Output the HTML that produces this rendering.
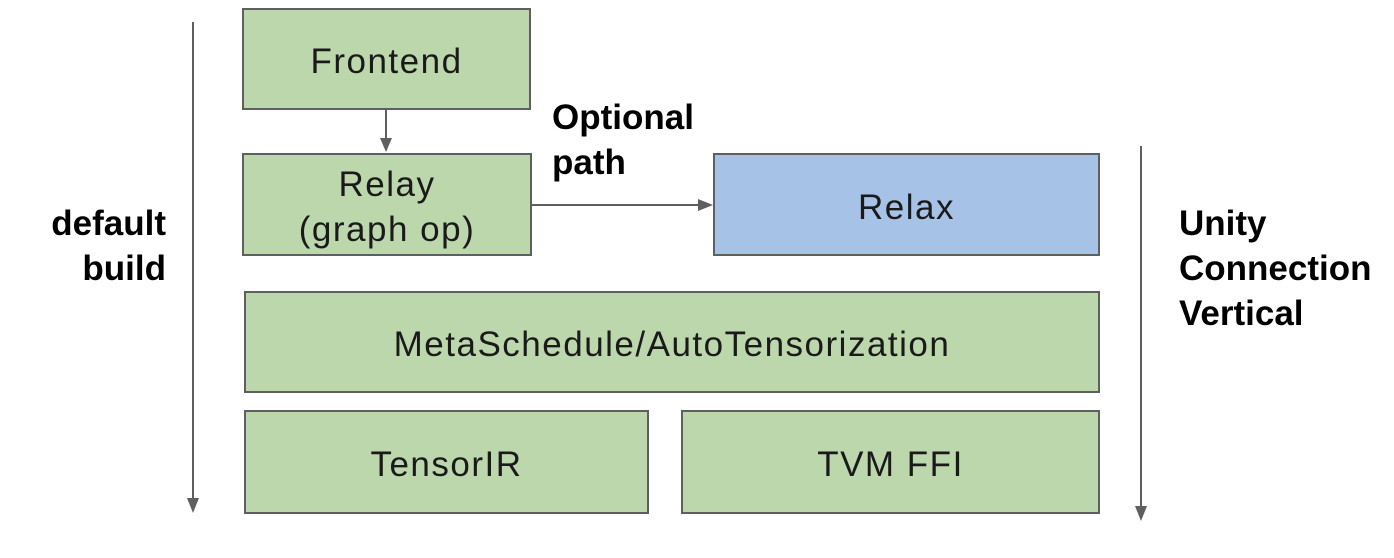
<!DOCTYPE html>
<html><head><style>
body{margin:0;width:1394px;height:558px;background:#fff;position:relative;overflow:hidden;font-family:"Liberation Sans",sans-serif}
.b{position:absolute;box-sizing:border-box;border:2px solid #5f5f5f;background:#bdd7ad;display:flex;align-items:center;justify-content:center;text-align:center;font-size:35px;letter-spacing:1.5px;color:#1a1a1a;line-height:45px;padding-top:5px}
.t{position:absolute;font-weight:bold;font-size:35px;line-height:45px;color:#000}
</style></head><body>
<div class="b" style="left:242px;top:8px;width:289px;height:102px">Frontend</div>
<div class="b" style="left:242px;top:153px;width:290px;height:103px">Relay<br>(graph op)</div>
<div class="b" style="left:713px;top:153px;width:387px;height:103px;background:#a6c3e7">Relax</div>
<div class="b" style="left:244px;top:291px;width:856px;height:102px">MetaSchedule/AutoTensorization</div>
<div class="b" style="left:244px;top:410px;width:405px;height:104px">TensorIR</div>
<div class="b" style="left:681px;top:410px;width:419px;height:104px">TVM FFI</div>
<div class="t" style="left:552px;top:95px">Optional<br>path</div>
<div class="t" style="left:20px;top:201px;width:146px;text-align:right">default<br>build</div>
<div class="t" style="left:1179px;top:201px">Unity<br>Connection<br>Vertical</div>
<svg width="1394" height="558" style="position:absolute;left:0;top:0">
<g stroke="#5f5f5f" stroke-width="2" fill="#5f5f5f">
<line x1="193" y1="22" x2="193" y2="500"/><polygon points="187,498 199,498 193,513" stroke="none"/>
<line x1="1141" y1="146" x2="1141" y2="508"/><polygon points="1135,506 1147,506 1141,521" stroke="none"/>
<line x1="386" y1="110" x2="386" y2="140"/><polygon points="380,138 392,138 386,152" stroke="none"/>
<line x1="532" y1="205" x2="700" y2="205"/><polygon points="698,199 698,211 713,205" stroke="none"/>
</g></svg>
</body></html>
